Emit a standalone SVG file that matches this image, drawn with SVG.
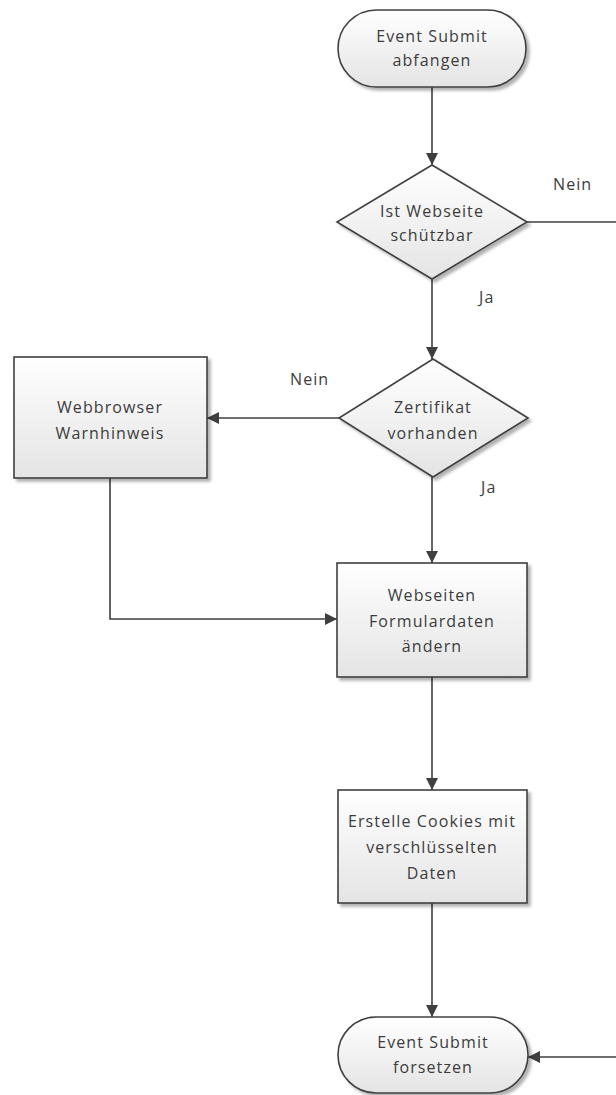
<svg xmlns="http://www.w3.org/2000/svg" width="616" height="1095" viewBox="0 0 616 1095">
<defs>
<linearGradient id="g" x1="0" y1="0" x2="0" y2="1">
<stop offset="0" stop-color="#ffffff"/>
<stop offset="1" stop-color="#e4e4e4"/>
</linearGradient>
<filter id="sh" x="-10%" y="-10%" width="130%" height="130%">
<feDropShadow dx="3" dy="3" stdDeviation="1.5" flood-color="#000" flood-opacity="0.3"/>
</filter>
<marker id="ah" viewBox="0 0 12 12" refX="12" refY="6" markerWidth="12" markerHeight="12" markerUnits="userSpaceOnUse" orient="auto">
<path d="M0,0 L12,6 L0,12 Z" fill="#3f3f3f"/>
</marker>
</defs>
<style>
.s{fill:url(#g);stroke:#404040;stroke-width:1.6;filter:url(#sh)}
.t{font-family:"Open Sans",sans-serif;font-size:16px;letter-spacing:1.1px;fill:#3c3c3c;text-anchor:middle}
.l{font-family:"Open Sans",sans-serif;font-size:16px;letter-spacing:1.1px;fill:#3c3c3c}
.c{fill:none;stroke:#3f3f3f;stroke-width:1.6;marker-end:url(#ah)}
</style>
<g id="connectors">
<path class="c" d="M432,87 L432,165"/>
<path class="c" d="M432,279 L432,359"/>
<path class="c" d="M339,418 L207,418"/>
<path class="c" d="M432,477 L432,563"/>
<path class="c" d="M110,478 L110,619 L337,619"/>
<path class="c" d="M432,677 L432,790"/>
<path class="c" d="M432,903 L432,1017"/>
<path class="c" d="M527,222 L619,222 L619,1057 L528,1057"/>
<text class="l" x="553" y="190">Nein</text>
<text class="l" x="479" y="303">Ja</text>
<text class="l" x="290" y="385">Nein</text>
<text class="l" x="481" y="493">Ja</text>
</g>
<g id="start">
<rect class="s" x="338" y="10" width="188" height="77" rx="38.5"/>
<text class="t" x="432" y="42">Event Submit</text>
<text class="t" x="432" y="66">abfangen</text>
</g>
<g id="decision1">
<polygon class="s" points="432,165 527,222 432,279 337,222"/>
<text class="t" x="432" y="217">Ist Webseite</text>
<text class="t" x="432" y="241">schützbar</text>
</g>
<g id="decision2">
<polygon class="s" points="433,359 528,418 433,477 339,418"/>
<text class="t" x="433" y="413">Zertifikat</text>
<text class="t" x="433" y="439">vorhanden</text>
</g>
<g id="warning">
<rect class="s" x="14" y="357" width="193" height="121"/>
<text class="t" x="110" y="413">Webbrowser</text>
<text class="t" x="110" y="439">Warnhinweis</text>
</g>
<g id="modify">
<rect class="s" x="337" y="563" width="190" height="114"/>
<text class="t" x="432" y="601">Webseiten</text>
<text class="t" x="432" y="627">Formulardaten</text>
<text class="t" x="432" y="652">ändern</text>
</g>
<g id="cookies">
<rect class="s" x="338" y="790" width="189" height="113"/>
<text class="t" x="432" y="827">Erstelle Cookies mit</text>
<text class="t" x="432" y="853">verschlüsselten</text>
<text class="t" x="432" y="879">Daten</text>
</g>
<g id="end">
<rect class="s" x="338" y="1017" width="190" height="76" rx="38"/>
<text class="t" x="433" y="1048">Event Submit</text>
<text class="t" x="433" y="1073">forsetzen</text>
</g>
</svg>
